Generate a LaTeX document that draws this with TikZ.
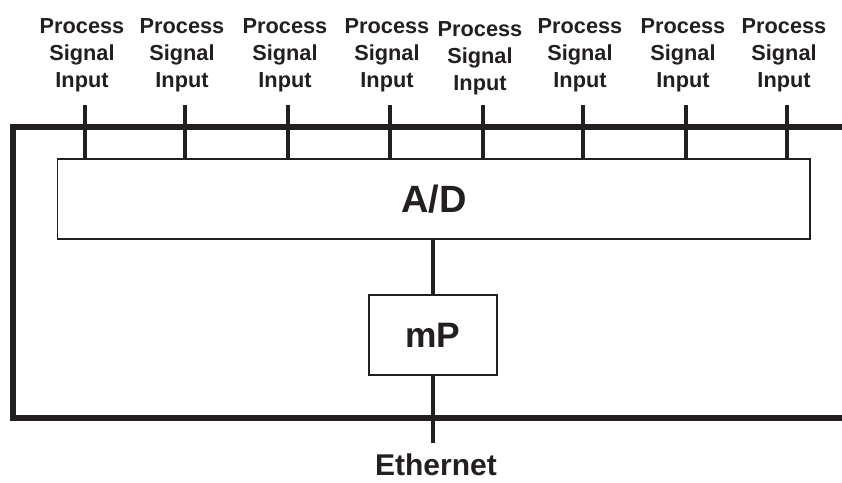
\documentclass[tikz,border=0pt]{standalone}
\usepackage{fontspec}
\setmainfont{Liberation Sans}
\usepackage{xcolor}
\usepackage{tikz}
\usetikzlibrary{calc}
\definecolor{ink}{HTML}{231F20}
\definecolor{paper}{HTML}{FFFFFF}
\tikzset{
  frame/.style={draw=ink, line width=4.5pt, line join=miter},
  tick/.style={draw=ink, line width=3pt},
  unitbox/.style={draw=ink, line width=0.8pt, fill=paper, inner sep=0pt, outer sep=0pt},
  siglab/.style={text=ink, font=\fontsize{16.3}{20.25}\selectfont\bfseries, align=center, anchor=north, inner sep=0pt},
  lab/.style={text=ink, font=\bfseries, inner sep=0pt}
}
\begin{document}
\begin{tikzpicture}[x=0.75pt, y=-0.75pt]
  \useasboundingbox (0,0) rectangle (842,482);

  % outer frame, open to the right
  \draw[frame] (842,127) -- (13,127) -- (13,418) -- (842,418);

  % converter and processor
  \node[unitbox, minimum width=564.4pt, minimum height=60pt] (ad) at (433.75,199)
    {\fontsize{28.5}{30}\selectfont\bfseries\color{ink}A/D};
  \node[unitbox, minimum width=96pt, minimum height=60pt] (mp) at (433,335)
    {\fontsize{26.5}{28}\selectfont\bfseries\color{ink}mP};

  % process signal inputs
  \foreach \x/\y [count=\i] in {85/18,185/18,288/18,390/18,483/21,583/18,686/18,787/18} {
    \coordinate (top\i) at (\x,105);
    \draw[tick] (top\i) -- (top\i |- ad.north);
    \node[siglab] (sig\i) at (\x-3,\y) {Process\\Signal\\Input};
  }

  % bus between A/D and mP, then out to the network
  \coordinate (ethend) at (433,443);
  \draw[tick] (ad.south -| mp.north) -- (mp.north);
  \draw[tick] (mp.south) -- (ethend);
  \node[lab, font=\fontsize{22.5}{24}\selectfont\bfseries, anchor=base] (eth) at (436,475) {Ethernet};
\end{tikzpicture}
\end{document}
